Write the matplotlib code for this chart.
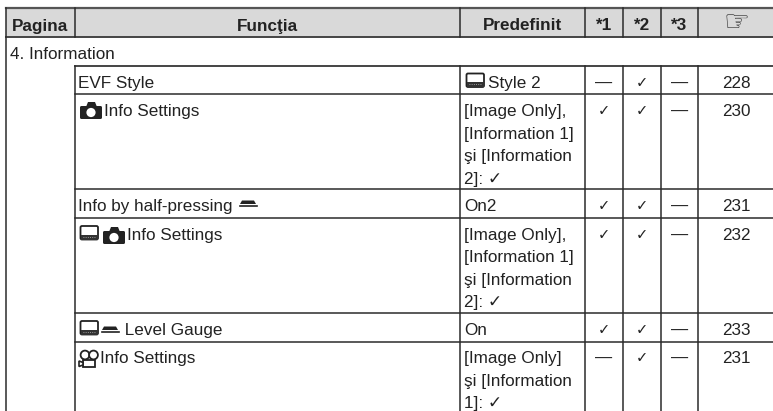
import matplotlib
matplotlib.use('Agg')
import matplotlib.pyplot as plt
from matplotlib.patches import Rectangle, FancyBboxPatch, Circle, Polygon

plt.rcParams['font.family'] = ['Liberation Sans', 'DejaVu Sans']

# table content
headers = ['Pagina', 'Funcţia', 'Predefinit', '*1', '*2', '*3', '☞']
section = '4. Information'
functions = ['EVF Style', 'Info Settings', 'Info by half-pressing', 'Info Settings',
             ' Level Gauge', 'Info Settings']
defaults = [['Style 2'],
            ['[Image Only],', '[Information 1]', 'şi [Information', '2]: ✓'],
            ['On2'],
            ['[Image Only],', '[Information 1]', 'şi [Information', '2]: ✓'],
            ['On'],
            ['[Image Only]', 'şi [Information', '1]: ✓']]
star1 = ['—', '✓', '✓', '✓', '✓', '—']
star2 = ['✓', '✓', '✓', '✓', '✓', '✓']
star3 = ['—', '—', '—', '—', '—', '—']
pages = ['228', '230', '231', '232', '233', '231']

# layout in pixels
col_x = [6, 74.5, 460, 585, 622.7, 660.7, 698, 773]
row_top = [66, 94.5, 189.5, 218, 313, 341.5]
row_bottom = [94.5, 189.5, 218, 313, 341.5, 411]
line_col = '#2b2b2b'
fs = 12.3
pitch = 22.4

fig = plt.figure(figsize=(7.73, 4.11), dpi=100)
ax = fig.add_axes([0, 0, 1, 1])
ax.set_xlim(0, 773)
ax.set_ylim(411, 0)
ax.axis('off')


def lcd_icon(x, y):
    ax.add_patch(FancyBboxPatch((x + 1, y + 0.5), 17.5, 13.5, boxstyle='round,pad=0,rounding_size=1.5',
                                fc='white', ec='#222222', lw=1.3))
    ax.add_patch(Rectangle((x + 1, y + 9), 17.5, 5, fc='#333333', ec='none'))
    ax.plot([x + 3, x + 16], [y + 11.5, y + 11.5], color='#bbbbbb', lw=0.6, ls=':')


def camera_icon(x, y):
    ax.add_patch(FancyBboxPatch((x, y + 4), 22, 13, boxstyle='round,pad=0,rounding_size=1.5',
                                fc='#222222', ec='none'))
    ax.add_patch(Polygon([(x + 6, y + 5), (x + 8, y), (x + 15, y), (x + 17, y + 5)], fc='#222222', ec='none'))
    ax.add_patch(Circle((x + 11, y + 10.5), 4.6, fc='white', ec='none'))


def half_press_icon(x, y):
    ax.add_patch(Polygon([(x + 2, y), (x + 14, y), (x + 16, y + 3.5), (x, y + 3.5)], fc='#222222', ec='none'))
    ax.plot([x, x + 17], [y + 5.2, y + 5.2], color='#222222', lw=1.2)


def movie_icon(x, y):
    ax.add_patch(Circle((x + 6, y + 5), 4.4, fc='white', ec='#222222', lw=1.3))
    ax.add_patch(Circle((x + 14.5, y + 5), 4.4, fc='white', ec='#222222', lw=1.3))
    ax.add_patch(Rectangle((x + 4, y + 10), 12, 6.5, fc='white', ec='#222222', lw=1.3))
    ax.add_patch(Polygon([(x, y + 11), (x + 4, y + 12.5), (x + 4, y + 15), (x, y + 16.5)],
                         fc='white', ec='#222222', lw=1.2))


# header
ax.add_patch(Rectangle((col_x[0], 8), 773 - col_x[0], 29, fc='#d9d9d9', ec='none'))
for i, h in enumerate(headers):
    xc = (col_x[i] + col_x[i + 1]) / 2
    if h == '☞':
        ax.text(xc + 1, 31, h, ha='center', va='baseline', fontsize=21, color='#333333')
    else:
        ax.text(xc, 30.5, h, ha='center', va='baseline', fontsize=fs, fontweight='bold', color='#222222')

ax.text(10, 59, section, ha='left', va='baseline', fontsize=fs, color='#222222')

# rows
for i in range(len(functions)):
    top = row_top[i]
    base = top + 21.8
    func_x = col_x[1] + 4
    if i == 1:
        camera_icon(80, top + 7.5)
        func_x = 104
    elif i == 3:
        lcd_icon(79.5, top + 7.5)
        camera_icon(103, top + 9)
        func_x = 127
    elif i == 4:
        lcd_icon(79.5, top + 7.5)
        half_press_icon(102, top + 13.5)
        func_x = 120
    elif i == 5:
        movie_icon(79, top + 8.5)
        func_x = 100
    ax.text(func_x, base, functions[i], ha='left', va='baseline', fontsize=fs, color='#222222')
    if i == 2:
        half_press_icon(240, top + 11)

    def_x = col_x[2] + 4
    if i == 0:
        lcd_icon(465.5, top + 7)
        def_x = 487.5
    for j, t in enumerate(defaults[i]):
        ax.text(def_x, base + j * pitch, t, ha='left', va='baseline', fontsize=fs, color='#222222')

    for k, vals in enumerate([star1, star2, star3]):
        xc = (col_x[3 + k] + col_x[4 + k]) / 2
        size = 10.5 if vals[i] == '✓' else fs
        ax.text(xc, base - (1 if vals[i] == '✓' else 0), vals[i], ha='center', va='baseline', fontsize=size, color='#222222')
    ax.text((col_x[6] + col_x[7]) / 2 + 0.5, base, pages[i], ha='center', va='baseline', fontsize=fs, color='#222222')

# grid lines
lw = 1.1
ax.plot([col_x[0], 773], [8, 8], color='#555555', lw=1.6)
ax.plot([col_x[0], 773], [37, 37], color='#444444', lw=1.4)
ax.plot([col_x[1], 773], [66, 66], color='#444444', lw=1.4)
for y in row_bottom[:-1]:
    ax.plot([col_x[1], 773], [y, y], color=line_col, lw=lw)
ax.plot([col_x[0], col_x[0]], [8, 411], color=line_col, lw=lw)
ax.plot([col_x[1], col_x[1]], [8, 37], color=line_col, lw=lw)
ax.plot([col_x[1], col_x[1]], [66, 411], color=line_col, lw=lw)
for x in col_x[2:7]:
    ax.plot([x, x], [8, 37], color=line_col, lw=lw)
    ax.plot([x, x], [66, 411], color=line_col, lw=lw)

fig.savefig('out.png', dpi=100)
